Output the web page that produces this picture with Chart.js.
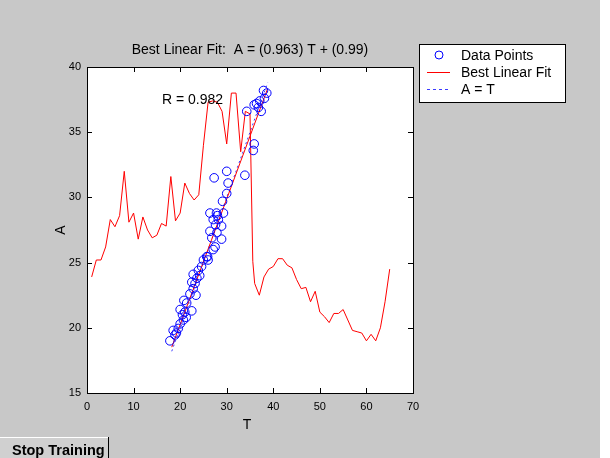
<!DOCTYPE html>
<html>
<head>
<meta charset="utf-8">
<script src="https://cdn.jsdelivr.net/npm/chart.js@4.4.1/dist/chart.umd.min.js"></script>
<style>
  html, body { margin: 0; padding: 0; background: #c8c8c8; }
  #wrap { width: 610px; height: 458px; }
</style>
</head>
<body>
<div id="wrap"><canvas id="fitChart" width="610" height="458"></canvas></div>
<script>
// red curve (plotted against sample index)
var curveX = [1, 2, 3, 4, 5, 6, 7, 8, 9, 10,
              11, 12, 13, 14, 15, 16, 17, 18, 19, 20,
              21, 22, 23, 24, 25, 26, 27, 28, 29, 30,
              31, 32, 33, 34, 35, 35.6,
              36, 37, 38, 39, 40, 41, 42, 43, 44, 45,
              46, 47, 48, 49, 50, 51, 52, 53, 54, 55,
              56, 57, 58, 59, 60, 61, 62, 63, 64, 65];
var curveA = [23.9, 25.2, 25.2, 26.2, 28.3, 27.75, 28.6, 32.0, 28.1, 28.8,
              26.8, 28.5, 27.5, 26.9, 27.1, 28.0, 27.8, 31.6, 28.2, 28.8,
              31.1, 30.3, 29.8, 30.2, 34.0, 37.3, 37.4, 37.3, 36.6, 34.1,
              38.0, 38.0, 33.5, 36.6, 36.4, 25.1,
              23.4, 22.5, 23.9, 24.5, 24.7, 25.3, 25.3, 24.8, 24.6, 23.7,
              23.0, 23.1, 22.0, 22.8, 21.2, 20.85, 20.4, 21.1, 21.1, 21.4,
              20.6, 19.8, 19.7, 19.6, 19.0, 19.5, 19.0, 20.0, 22.0, 24.5];

// data points: targets T and outputs A
var targetsT = [17.8, 18.9, 18.5, 19.6, 20.0, 20.7, 20.5, 21.0, 22.5, 20.0,
                20.8, 21.4, 22.1, 22.8, 23.2, 22.5, 23.6, 22.8, 23.9, 24.6,
                25.0, 26.0, 25.7, 27.1, 19.2, 21.3, 23.4, 24.2,
                27.3, 30.0, 30.3, 30.0, 29.1, 26.4, 27.8, 29.3, 27.1, 28.2,
                28.9, 27.6, 26.4, 26.8, 28.9, 27.5, 25.9, 28.0, 27.9,
                33.9, 35.9, 35.7, 34.3, 37.9, 38.6, 36.4, 35.9, 36.8, 37.4,
                37.1, 38.1];
var outputsA = [19.0, 19.45, 19.8, 19.95, 20.3, 20.6, 21.0, 21.2, 21.3, 21.4,
                22.1, 21.9, 22.6, 23.0, 23.4, 23.5, 23.8, 24.1, 24.4, 24.7,
                25.2, 25.2, 25.45, 26.0, 19.6, 20.8, 22.5, 24.0,
                31.5, 32.0, 31.1, 30.3, 29.7, 28.8, 28.8, 28.8, 28.3, 28.3,
                27.8, 27.9, 27.4, 26.9, 26.8, 26.2, 25.45, 28.6, 27.3,
                31.7, 34.1, 33.6, 36.6, 38.2, 38.0, 37.2, 37.1, 36.9, 36.6,
                37.4, 37.6];

// fit results
var fitSlope = 0.963;
var fitIntercept = 0.99;
var fitR = 0.982;
var lineRange = [18.2, 38.8];

var xTicks = [0, 10, 20, 30, 40, 50, 60, 70];
var yTicks = [15, 20, 25, 30, 35, 40];

var FONT = "'Liberation Sans', Arial, sans-serif";

var scatterPts = targetsT.map(function(t, i) { return { x: t, y: outputsA[i] }; });
var curvePts = curveX.map(function(x, i) { return { x: x, y: curveA[i] }; });
var fitPts = lineRange.map(function(t) { return { x: t, y: fitSlope * t + fitIntercept }; });
var identPts = lineRange.map(function(t) { return { x: t, y: t }; });

// matlab-ish figure: background, box, inward ticks, title, legend, button
var figurePlugin = {
    id: 'figureBits',
    beforeDraw: function(chart) {
        var c = chart.ctx, a = chart.chartArea;
        c.save();
        c.fillStyle = '#c8c8c8';
        c.fillRect(0, 0, chart.width, chart.height);
        c.fillStyle = '#ffffff';
        c.fillRect(600, 0, 10, chart.height);
        c.fillRect(a.left, a.top, a.right - a.left, a.bottom - a.top);
        c.restore();
    },
    afterDraw: function(chart) {
        var c = chart.ctx, a = chart.chartArea;
        var xs = chart.scales.x, ys = chart.scales.y;
        c.save();
        c.strokeStyle = '#000';
        c.lineWidth = 1;
        c.strokeRect(a.left + 0.5, a.top + 0.5, a.right - a.left, a.bottom - a.top);

        // inward ticks on all four sides
        c.beginPath();
        xTicks.forEach(function(v) {
            var px = Math.round(xs.getPixelForValue(v)) + 0.5;
            c.moveTo(px, a.bottom); c.lineTo(px, a.bottom - 5);
            c.moveTo(px, a.top); c.lineTo(px, a.top + 5);
        });
        yTicks.forEach(function(v) {
            var py = Math.round(ys.getPixelForValue(v)) + 0.5;
            c.moveTo(a.left, py); c.lineTo(a.left + 5, py);
            c.moveTo(a.right, py); c.lineTo(a.right - 5, py);
        });
        c.stroke();

        c.fillStyle = '#000';
        c.font = '14px ' + FONT;
        c.textAlign = 'center';
        c.textBaseline = 'middle';
        c.fillText('Best Linear Fit:  A = (' + fitSlope.toFixed(3) + ') T + (' + fitIntercept.toFixed(2) + ')',
                   (a.left + a.right) / 2, 50);
        c.fillText('T', (a.left + a.right) / 2 - 3, 425);
        c.save();
        c.translate(61, (a.top + a.bottom) / 2);
        c.rotate(-Math.PI / 2);
        c.fillText('A', 0, 0);
        c.restore();

        c.textAlign = 'left';
        c.fillText('R = ' + fitR.toFixed(3), 162, 100);

        // legend
        c.fillStyle = '#fff';
        c.fillRect(419, 44, 146, 58);
        c.strokeStyle = '#000';
        c.strokeRect(419.5, 44.5, 146, 58);
        c.strokeStyle = '#0000ff';
        c.beginPath(); c.arc(439, 55, 4, 0, Math.PI * 2); c.stroke();
        c.strokeStyle = '#ff0000';
        c.beginPath(); c.moveTo(427, 72.5); c.lineTo(450, 72.5); c.stroke();
        c.strokeStyle = '#3a3aff';
        c.setLineDash([3, 3]);
        c.beginPath(); c.moveTo(427, 89.5); c.lineTo(450, 89.5); c.stroke();
        c.setLineDash([]);
        c.fillStyle = '#000';
        c.fillText('Data Points', 461, 56);
        c.fillText('Best Linear Fit', 461, 73);
        c.fillText('A = T', 461, 90);

        // stop training button
        c.fillStyle = '#d0d0d0';
        c.fillRect(0, 437, 109, 21);
        c.strokeStyle = '#ffffff';
        c.beginPath(); c.moveTo(0, 437.5); c.lineTo(108, 437.5); c.stroke();
        c.strokeStyle = '#000';
        c.beginPath(); c.moveTo(108.5, 437); c.lineTo(108.5, 458); c.stroke();
        c.fillStyle = '#000';
        c.font = 'bold 14.5px ' + FONT;
        c.textBaseline = 'alphabetic';
        c.fillText('Stop Training', 12, 455);
        c.restore();
    }
};

new Chart(document.getElementById('fitChart').getContext('2d'), {
    type: 'scatter',
    data: {
        datasets: [{
            label: 'Data Points',
            data: scatterPts,
            showLine: false,
            pointStyle: 'circle',
            pointRadius: 4.3,
            pointBorderWidth: 1,
            borderColor: '#0000ff',
            backgroundColor: 'rgba(0,0,0,0)'
        }, {
            label: 'curve',
            data: curvePts,
            showLine: true,
            pointRadius: 0,
            borderColor: '#ff0000',
            borderWidth: 1,
            tension: 0
        }, {
            label: 'Best Linear Fit',
            data: fitPts,
            showLine: true,
            pointRadius: 0,
            borderColor: '#ff0000',
            borderWidth: 1
        }, {
            label: 'A = T',
            data: identPts,
            showLine: true,
            pointRadius: 0,
            borderColor: '#3a3aff',
            borderWidth: 1,
            borderDash: [2, 3]
        }]
    },
    options: {
        responsive: false,
        animation: false,
        events: [],
        layout: { padding: { left: 47, right: 197, top: 67, bottom: 35 } },
        plugins: { legend: { display: false }, title: { display: false }, tooltip: { enabled: false } },
        scales: {
            x: {
                type: 'linear', min: 0, max: 70,
                afterFit: function(s) { s.height = 30; },
                afterBuildTicks: function(s) { s.ticks = xTicks.map(function(v) { return { value: v }; }); },
                grid: { display: false, drawTicks: false },
                border: { display: false },
                ticks: { color: '#000', font: { family: FONT, size: 11 }, padding: 7, maxRotation: 0 }
            },
            y: {
                type: 'linear', min: 15, max: 40,
                afterFit: function(s) { s.width = 40; },
                afterBuildTicks: function(s) { s.ticks = yTicks.map(function(v) { return { value: v }; }); },
                grid: { display: false, drawTicks: false },
                border: { display: false },
                ticks: { color: '#000', font: { family: FONT, size: 11 }, padding: 6 }
            }
        }
    },
    plugins: [figurePlugin]
});
</script>
</body>
</html>
